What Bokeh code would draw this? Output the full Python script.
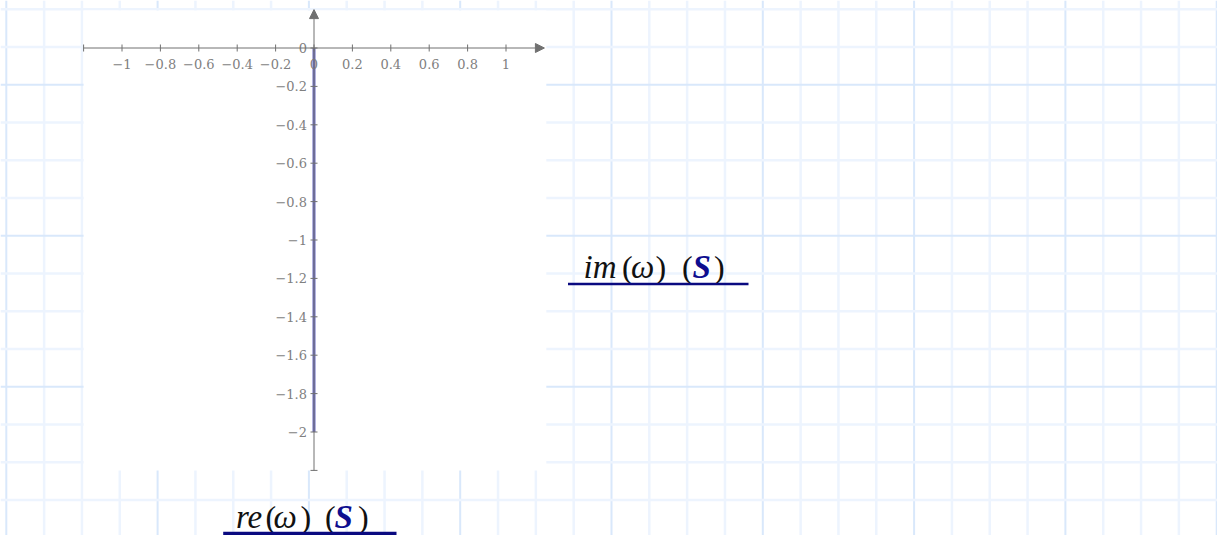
import math
from bokeh.plotting import figure
from bokeh.models import Range1d, Arrow, NormalHead
from bokeh.core.properties import value
from bokeh.embed import file_html
from bokeh.resources import INLINE

# ---------------- data ----------------
trace_re = [0.0, 0.0, 0.0, 0.0, 0.0]
trace_im = [0.0, -0.5, -1.0, -1.5, -2.0]

x_ticks = [-1.0, -0.8, -0.6, -0.4, -0.2, 0.0, 0.2, 0.4, 0.6, 0.8, 1.0]
x_tick_labels = ["−1", "−0.8", "−0.6", "−0.4", "−0.2", "0", "0.2", "0.4", "0.6", "0.8", "1"]
y_ticks = [0.0, -0.2, -0.4, -0.6, -0.8, -1.0, -1.2, -1.4, -1.6, -1.8, -2.0]
y_tick_labels = ["0", "−0.2", "−0.4", "−0.6", "−0.8", "−1", "−1.2", "−1.4", "−1.6", "−1.8", "−2"]

x_axis_lim = [-1.2, 1.2]
y_axis_lim = [-2.2, 0.2]

# ---------------- layout ----------------
W, H = 1217, 535
PAGE_OFF = 0
ORIGIN_X, ORIGIN_Y = 313.5, 47.5   # screen position of data origin
SCALE = 192.0                      # px per unit

fx0 = ORIGIN_X - PAGE_OFF
fy0 = ORIGIN_Y - PAGE_OFF
x_range = Range1d(-fx0 / SCALE, (W - fx0) / SCALE)
y_range = Range1d((fy0 - H) / SCALE, fy0 / SCALE)

p = figure(width=W, height=H, x_range=x_range, y_range=y_range,
           x_axis_location=None, y_axis_location=None,
           toolbar_location=None, output_backend="svg", title=None,
           min_border=0)
p.outline_line_color = None
p.background_fill_color = "white"
p.border_fill_color = "white"
p.xgrid.visible = False
p.ygrid.visible = False
p.extra_x_ranges = {"px": Range1d(PAGE_OFF, PAGE_OFF + W)}
p.extra_y_ranges = {"py": Range1d(PAGE_OFF + H, PAGE_OFF)}

# ---------------- worksheet grid (screen px) ----------------
GX0, GSTEP_X, NX = 5.8, 37.825, 33
GY0, GSTEP_Y, NY = 8.8, 37.75, 15
vx = [GX0 + GSTEP_X * k for k in range(NX)]
hy = [GY0 + GSTEP_Y * k for k in range(NY)]
minor_col, major_col = "#edf4fe", "#d9e8fb"
for k, x in enumerate(vx):
    major = (k % 4 == 0)
    p.segment(x0=[x], y0=[0], x1=[x], y1=[600], x_range_name="px", y_range_name="py",
              line_color=major_col if major else minor_col, line_width=2 if major else 2.5)
for k, y in enumerate(hy):
    major = (k % 4 == 2)
    p.segment(x0=[0], y0=[y], x1=[1300], y1=[y], x_range_name="px", y_range_name="py",
              line_color=major_col if major else minor_col, line_width=2 if major else 2.5)

# ---------------- plot region ----------------
p.quad(left=[x_axis_lim[0]], right=[x_axis_lim[1] + 0.01],
       bottom=[y_axis_lim[0]], top=[y_axis_lim[1] - 0.005],
       fill_color="white", line_color=None)

AX_COL = "#707070"
# data trace
p.line(trace_re, trace_im, line_color="#6262bd", line_width=3, line_alpha=0.95)

# axes with arrows
p.add_layout(Arrow(x_start=x_axis_lim[0], y_start=0, x_end=x_axis_lim[1], y_end=0,
                   line_color=AX_COL, line_width=1,
                   end=NormalHead(size=9, fill_color=AX_COL, line_color=AX_COL, line_width=1)))
p.add_layout(Arrow(x_start=0, y_start=y_axis_lim[0], x_end=0, y_end=y_axis_lim[1],
                   line_color=AX_COL, line_width=1,
                   end=NormalHead(size=9, fill_color=AX_COL, line_color=AX_COL, line_width=1)))

# tick marks
xt_marks = [x_axis_lim[0]] + x_ticks
yt_marks = y_ticks + [y_axis_lim[0]]
p.scatter(xt_marks, [0] * len(xt_marks), marker="dash", angle=math.pi / 2, size=7,
          line_color=AX_COL, line_width=1)
p.scatter([0] * len(yt_marks), yt_marks, marker="dash", size=7,
          line_color=AX_COL, line_width=1)

TICK_FONT = value("DejaVu Serif")
TICK_COL = "#808080"
p.text(x=x_ticks, y=[0] * len(x_ticks), text=x_tick_labels, text_align="center",
       text_baseline="middle", y_offset=16, text_font=TICK_FONT,
       text_font_size="13px", text_color=TICK_COL)
p.text(x=[0] * len(y_ticks), y=y_ticks, text=y_tick_labels, text_align="right",
       text_baseline="middle", x_offset=-7, text_font=TICK_FONT,
       text_font_size="13px", text_color=TICK_COL)

# ---------------- axis expressions (screen px) ----------------
EXPR_FONT = value("Liberation Serif")
BLUE = "#0d0d8f"
BLACK = "#111111"
LET, PAR = "33px", "32px"
re_pieces = [("re", "italic", BLACK, 235.5, LET), ("(", "normal", BLACK, 265, PAR),
             ("ω", "italic", BLACK, 273, LET), (")", "normal", BLACK, 300, PAR),
             ("(", "normal", BLACK, 324.5, PAR), ("S", "bold italic", BLUE, 334, LET),
             (")", "normal", BLACK, 357.5, PAR)]
im_pieces = [("im", "italic", BLACK, 583, LET),
             ("(", "normal", BLACK, 621.5, PAR),
             ("ω", "italic", BLACK, 630.5, LET), (")", "normal", BLACK, 655, PAR),
             ("(", "normal", BLACK, 681.5, PAR), ("S", "bold italic", BLUE, 692, LET),
             (")", "normal", BLACK, 713.5, PAR)]
for pieces, base in ((re_pieces, 516.5), (im_pieces, 266)):
    for t, style, col, x, fs in pieces:
        p.text(x=[x], y=[base], text=[t], x_range_name="px", y_range_name="py",
               text_align="left", text_baseline="alphabetic", text_font=EXPR_FONT,
               text_font_size=fs, text_font_style=style, text_color=col)

UL_COL = "#0a0a80"
p.segment(x0=[222.7], y0=[533], x1=[396], y1=[533], x_range_name="px", y_range_name="py",
          line_color=UL_COL, line_width=3.5)
p.segment(x0=[567.5], y0=[283.5], x1=[748], y1=[283.5], x_range_name="px", y_range_name="py",
          line_color=UL_COL, line_width=2.5)

open("out.html", "w").write(file_html(p, INLINE))
